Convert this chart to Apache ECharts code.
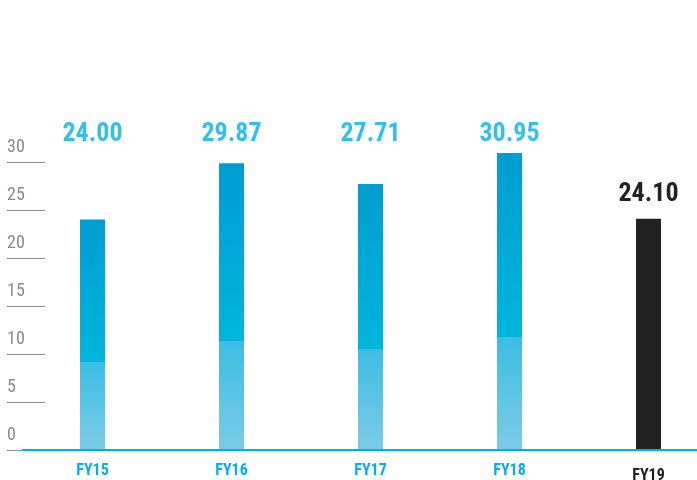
<!DOCTYPE html>
<html>
<head>
<meta charset="utf-8">
<script src="https://cdn.jsdelivr.net/npm/echarts@6/dist/echarts.min.js"></script>
<style>
  html, body { margin: 0; padding: 0; background: #fff; }
  #main { width: 697px; height: 480px; }
</style>
</head>
<body>
<div id="main"></div>
<script>
// 数据
var years = ['FY15', 'FY16', 'FY17', 'FY18', 'FY19'];
var values = [24.00, 29.87, 27.71, 30.95, 24.10];
var yTicks = [0, 5, 10, 15, 20, 25, 30];

var FONT = '"Liberation Sans Narrow", "Roboto Condensed", Roboto, sans-serif';
var CYAN = '#00aeef';
var DARK = '#222222';
var LABEL_LEVEL = 32.9; // 蓝色柱子的数值标签统一放在这一高度

var blueFill = new echarts.graphic.LinearGradient(0, 0, 0, 1, [
  { offset: 0, color: '#009dd0' },
  { offset: 0.62, color: '#00b5dd' },
  { offset: 0.62, color: '#3cbde2' },
  { offset: 1, color: '#7ccbe7' }
]);

var last = years.length - 1;

var myChart = echarts.init(document.getElementById('main'));
myChart.setOption({
  animation: false,
  grid: { left: 23, right: -21, top: 162, bottom: 30, outerBoundsMode: 'none' },
  xAxis: {
    type: 'category',
    z: 5,
    data: years.map(function (y, i) {
      return i === last
        ? { value: y, textStyle: { color: DARK, padding: [5, 0, 0, 0] } }
        : y;
    }),
    axisLine: { lineStyle: { color: CYAN, width: 2 } },
    axisTick: { show: false },
    axisLabel: {
      color: CYAN,
      fontFamily: FONT,
      fontSize: 16,
      fontWeight: 'bold',
      margin: 13
    }
  },
  yAxis: {
    type: 'value',
    min: 0,
    max: 30,
    interval: 5,
    offset: -22,
    splitLine: { show: false },
    axisLine: { show: false },
    axisTick: { show: true, length: 38, lineStyle: { color: '#8c8c8c', width: 1 } },
    axisLabel: {
      color: '#8a8a8a',
      fontFamily: FONT,
      fontSize: 18,
      align: 'left',
      verticalAlign: 'bottom',
      margin: 38,
      padding: [0, 0, 6, 0],
      formatter: function (v) { return yTicks.indexOf(v) >= 0 ? String(v) : ''; }
    }
  },
  series: [
    {
      type: 'bar',
      barWidth: 25,
      clip: false,
      data: values.map(function (v, i) {
        return {
          value: v,
          itemStyle: { color: i === last ? DARK : blueFill },
          label: i === last ? {
            show: true,
            position: 'top',
            distance: 11,
            color: DARK,
            fontFamily: FONT,
            fontSize: 26,
            fontWeight: 'bold',
            formatter: function (p) { return p.value.toFixed(2); }
          } : { show: false }
        };
      })
    },
    {
      // 蓝色柱子的数值标签
      type: 'scatter',
      symbolSize: 0,
      clip: false,
      silent: true,
      data: values.map(function (v, i) { return i === last ? '-' : LABEL_LEVEL; }),
      label: {
        show: true,
        position: 'inside',
        color: CYAN,
        fontFamily: FONT,
        fontSize: 26,
        fontWeight: 'bold',
        formatter: function (p) { return values[p.dataIndex].toFixed(2); }
      }
    }
  ]
});
</script>
</body>
</html>
